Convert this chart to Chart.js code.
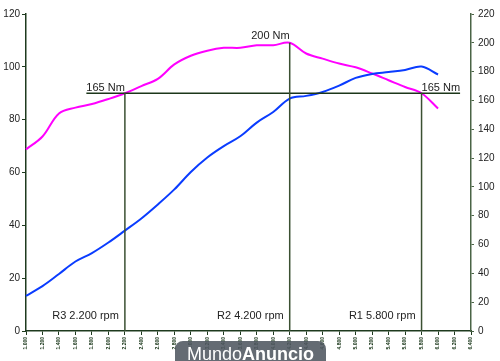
<!DOCTYPE html>
<html>
<head>
<meta charset="utf-8">
<script src="https://cdn.jsdelivr.net/npm/chart.js@4.4.1/dist/chart.umd.min.js"></script>
<style>
    html, body { margin: 0; padding: 0; background: #fff; }
    #wrap { position: relative; width: 500px; height: 361px; overflow: hidden; }
    #marca {
        position: absolute; left: 175px; top: 341px; width: 151px; height: 28px;
        border-radius: 8px; background: rgba(78, 86, 96, 0.88); color: #fff;
        font: 18px "Liberation Sans", Arial, sans-serif; line-height: 26px; text-align: center;
    }
    #marca b { font-weight: bold; }
</style>
</head>
<body>
<div id="wrap">
    <canvas id="curvas" width="500" height="361"></canvas>
    <div id="marca">Mundo<b>Anuncio</b></div>
</div>
<script>
// régimen (rpm) - etiquetas del eje X
const rpm = ['1.000', '1.200', '1.400', '1.600', '1.800', '2.000', '2.200', '2.400', '2.600', '2.800',
    '3.000', '3.200', '3.400', '3.600', '3.800', '4.000', '4.200', '4.400', '4.600', '4.800',
    '5.000', '5.200', '5.400', '5.600', '5.800', '6.000', '6.200', '6.400'];

// potencia (eje izquierdo)
const potencia = [13.3, 17.0, 21.6, 26.3, 29.5, 33.5, 38.0, 42.6, 47.9, 53.6,
    60.2, 65.7, 70.0, 73.7, 78.9, 82.9, 88.0, 89.0, 90.5, 92.9,
    95.8, 97.3, 98.0, 98.8, 100.1, 97.1];

// par motor en Nm (eje derecho)
const par = [126, 135, 151, 155, 157.5, 161, 165, 170, 175, 185,
    191, 194.5, 196.5, 196.5, 198.3, 198.3, 200, 192.6, 189, 185.6,
    183, 178.7, 174, 169.3, 165, 154.4];

// puntos de referencia
const refRpm = ['2.200', '4.200', '5.800'];
const refPar = [165, 200, 165];
const refNombre = ['R3 2.200 rpm', 'R2 4.200 rpm', 'R1 5.800 rpm'];

const verdeEje = '#1e3a1e';
const fuente = "'Liberation Sans', Arial, sans-serif";

// líneas y textos de referencia
const referencias = {
    id: 'referencias',
    afterDatasetsDraw(chart) {
        const ctx = chart.ctx;
        const x = chart.scales.x, y1 = chart.scales.y1;
        const fondo = chart.chartArea.bottom;
        ctx.save();
        ctx.font = '11px ' + fuente;
        ctx.fillStyle = '#222';
        const pos = refRpm.map((r, i) => ({
            px: x.getPixelForValue(rpm.indexOf(r)),
            py: y1.getPixelForValue(refPar[i])
        }));

        // línea horizontal de 165 Nm
        const w165 = ctx.measureText('165 Nm').width;
        ctx.strokeStyle = '#1c361a';
        ctx.lineWidth = 1.5;
        ctx.beginPath();
        ctx.moveTo(pos[0].px - w165, pos[0].py);
        ctx.lineTo(pos[2].px + w165, pos[2].py);
        ctx.stroke();

        // verticales
        ctx.strokeStyle = '#3b5032';
        pos.forEach(p => {
            ctx.beginPath();
            ctx.moveTo(p.px, fondo);
            ctx.lineTo(p.px, p.py);
            ctx.stroke();
        });

        ctx.textBaseline = 'bottom';
        ctx.textAlign = 'right';
        ctx.fillText('165 Nm', pos[0].px, pos[0].py);
        ctx.fillText('200 Nm', pos[1].px, pos[1].py - 1);
        ctx.textAlign = 'left';
        ctx.fillText('165 Nm', pos[2].px, pos[2].py);

        ctx.textAlign = 'right';
        ctx.textBaseline = 'middle';
        pos.forEach((p, i) => ctx.fillText(refNombre[i], p.px - 6, fondo - 15));
        ctx.restore();
    }
};

new Chart(document.getElementById('curvas'), {
    type: 'line',
    data: {
        labels: rpm,
        datasets: [{
            label: 'Potencia',
            data: potencia,
            borderColor: '#0a3cff',
            borderWidth: 2,
            pointRadius: 0,
            tension: 0.35,
            yAxisID: 'y'
        }, {
            label: 'Par',
            data: par,
            borderColor: '#ff00ff',
            borderWidth: 2,
            pointRadius: 0,
            tension: 0.35,
            yAxisID: 'y1'
        }]
    },
    options: {
        responsive: false,
        animation: false,
        layout: { padding: { top: 14, left: 0, right: 0, bottom: 0 } },
        plugins: {
            legend: { display: false },
            tooltip: { enabled: false }
        },
        scales: {
            x: {
                offset: false,
                grid: { drawOnChartArea: false, tickLength: 4, color: verdeEje },
                border: { color: verdeEje, width: 1.5 },
                ticks: {
                    autoSkip: false, minRotation: 90, maxRotation: 90,
                    color: '#143214', padding: 2,
                    font: { size: 5, family: fuente, weight: 'bold' }
                },
                afterFit: s => { s.height = 30; }
            },
            y: {
                position: 'left',
                min: 0, max: 120,
                grid: { drawOnChartArea: false, tickLength: 4, color: verdeEje },
                border: { color: verdeEje, width: 1.5 },
                ticks: { stepSize: 20, color: '#222', padding: 2, font: { size: 10, family: fuente } },
                afterFit: s => { s.width = 26; }
            },
            y1: {
                position: 'right',
                min: 0, max: 220,
                grid: { drawOnChartArea: false, tickLength: 3, color: '#4a6446' },
                border: { color: '#4a6446', width: 1.5 },
                ticks: { stepSize: 20, color: '#222', padding: 4, font: { size: 10, family: fuente } },
                afterFit: s => { s.width = 29; }
            }
        }
    },
    plugins: [referencias]
});
</script>
</body>
</html>
